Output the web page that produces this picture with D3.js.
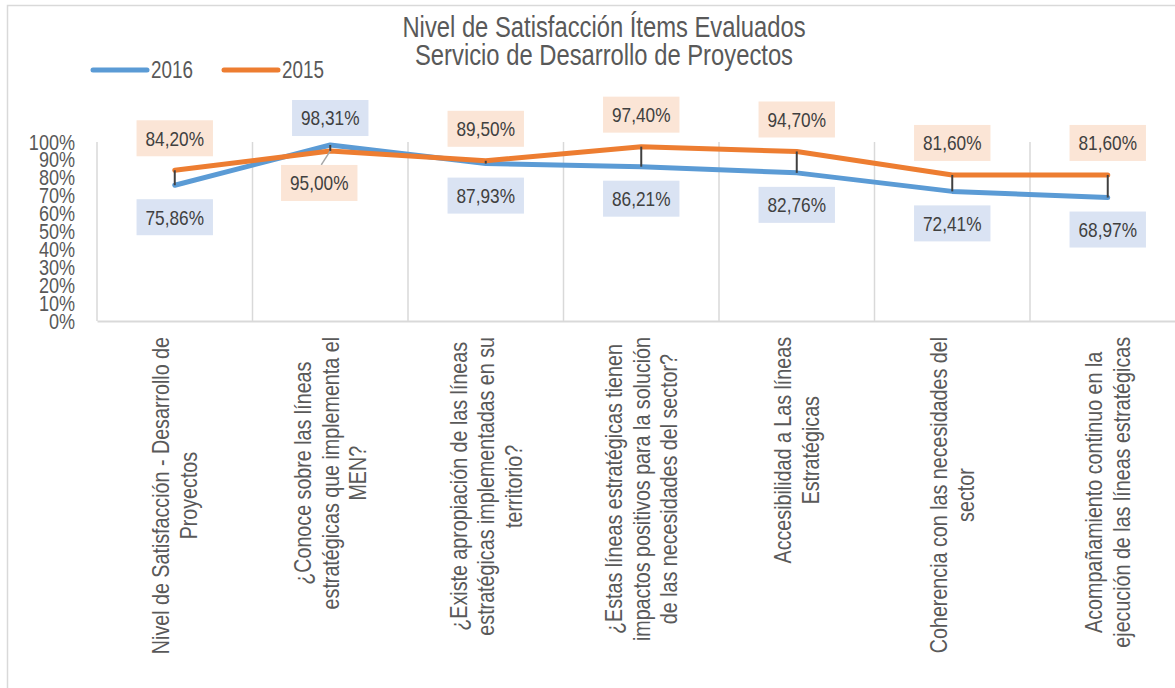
<!DOCTYPE html>
<html>
<head>
<meta charset="utf-8">
<script src="https://cdn.jsdelivr.net/npm/d3@7"></script>
<style>
  html, body { margin: 0; padding: 0; background: #fff; }
  svg { display: block; font-family: 'Liberation Sans', Arial, sans-serif; }
</style>
</head>
<body>
<div id="chart"></div>
<script>
// category tick labels, already split into lines as in the original
const categories = [
  ["Nivel de Satisfacción - Desarrollo de", "Proyectos"],
  ["¿Conoce sobre las líneas", "estratégicas que implementa el", "MEN?"],
  ["¿Existe apropiación de las líneas", "estratégicas implementadas en su", "territorio?"],
  ["¿Estas líneas estratégicas tienen", "impactos positivos para la solución", "de las necesidades del sector?"],
  ["Accesibilidad a Las líneas", "Estratégicas"],
  ["Coherencia con las necesidades del", "sector"],
  ["Acompañamiento continuo en la", "ejecución de las líneas estratégicas"]
];
const values2016 = [75.86, 98.31, 87.93, 86.21, 82.76, 72.41, 68.97];
const values2015 = [84.20, 95.00, 89.50, 97.40, 94.70, 81.60, 81.60];
const yTicks = [0, 10, 20, 30, 40, 50, 60, 70, 80, 90, 100];
const titleLines = ["Nivel de Satisfacción Ítems Evaluados", "Servicio de Desarrollo de Proyectos"];

const series = [
  { name: "2016", values: values2016, color: "#5b9bd5", box: "#dae3f3" },
  { name: "2015", values: values2015, color: "#ed7d31", box: "#fbe5d6" }
];

const W = 1175, H = 688;
const plot = { left: 97, top: 142, bottom: 321, step: 155.5 };
const fmt = v => v.toFixed(2).replace('.', ',') + '%';

// no Arial Narrow here: squeeze Liberation Sans horizontally instead
const NARROW = 0.82;
const narrow = sel => sel.each(function () {
  const w = this.getComputedTextLength();
  d3.select(this)
    .attr('textLength', w * NARROW)
    .attr('lengthAdjust', 'spacingAndGlyphs');
});

const svg = d3.select('#chart').append('svg')
  .attr('width', W)
  .attr('height', H);

svg.append('rect')
  .attr('x', 7.5).attr('y', 5.5)
  .attr('width', W + 20).attr('height', H + 20)
  .attr('fill', '#fff')
  .attr('stroke', '#d9d9d9')
  .attr('stroke-width', 1.5);

const idx = categories.map((d, i) => i);
const x = d3.scaleBand()
  .domain(idx)
  .range([plot.left, plot.left + plot.step * categories.length])
  .padding(0);
const y = d3.scaleLinear()
  .domain([0, 100])
  .range([plot.bottom, plot.top]);
const cx = i => x(i) + x.bandwidth() / 2;

// vertical gridlines at category boundaries
svg.append('g')
  .selectAll('line')
  .data(d3.range(categories.length + 1))
  .enter()
  .append('line')
  .attr('x1', i => plot.left + i * x.step())
  .attr('x2', i => plot.left + i * x.step())
  .attr('y1', y(100))
  .attr('y2', y(0))
  .attr('stroke', '#d9d9d9')
  .attr('stroke-width', 1.5);

// y axis
const yAxis = svg.append('g')
  .attr('transform', `translate(${plot.left}, 0)`)
  .call(d3.axisLeft(y).tickValues(yTicks).tickFormat(d => d + '%').tickSize(0).tickPadding(22));
yAxis.select('.domain').remove();
yAxis.selectAll('text')
  .attr('fill', '#595959')
  .style('font-family', "'Liberation Sans', Arial, sans-serif")
  .style('font-size', '22px')
  .call(narrow);

// x axis
const xAxis = svg.append('g')
  .attr('transform', `translate(0, ${plot.bottom})`)
  .call(d3.axisBottom(x).tickSize(0).tickFormat(''));
xAxis.select('.domain')
  .attr('stroke', '#d9d9d9')
  .attr('stroke-width', 2);
xAxis.selectAll('.tick text').remove();

// rotated multi-line category labels
const catFont = 24, catLine = 27.5, catTop = 337;
const catG = svg.append('g');
categories.forEach((lines, i) => {
  const g = catG.append('g');
  const texts = g.selectAll('text')
    .data(lines)
    .enter()
    .append('text')
    .attr('text-anchor', 'middle')
    .attr('fill', '#595959')
    .style('font-size', catFont + 'px')
    .text(d => d);
  const longest = d3.max(texts.nodes(), n => n.getComputedTextLength()) * NARROW;
  texts.call(narrow)
    .attr('x', 0)
    .attr('y', (d, j) => (j - (lines.length - 1) / 2) * catLine + catFont * 0.35);
  g.attr('transform', `translate(${cx(i)}, ${catTop + longest / 2}) rotate(-90)`);
});

// series lines
const line = d3.line()
  .x((d, i) => cx(i))
  .y(d => y(d));
series.forEach(s => {
  svg.append('path')
    .datum(s.values)
    .attr('d', line)
    .attr('fill', 'none')
    .attr('stroke', s.color)
    .attr('stroke-width', 5)
    .attr('stroke-linejoin', 'round')
    .attr('stroke-linecap', 'round');
});

// high-low lines
svg.append('g')
  .selectAll('line')
  .data(idx)
  .enter()
  .append('line')
  .attr('x1', i => cx(i))
  .attr('x2', i => cx(i))
  .attr('y1', i => y(values2016[i]))
  .attr('y2', i => y(values2015[i]))
  .attr('stroke', '#404040')
  .attr('stroke-width', 2);

// data labels: the higher value goes above, the lower below
const labelOffset = 32;
const nudge = { '2015-1': [-11, 0], '2016-1': [0, 5] };
const labelG = svg.append('g');
series.forEach((s, k) => {
  const other = series[1 - k];
  s.values.forEach((v, i) => {
    const above = v >= other.values[i];
    const n = nudge[s.name + '-' + i] || [0, 0];
    const px = cx(i), py = y(v);
    const lx = px + n[0];
    const ly = py + (above ? -labelOffset : labelOffset) + n[1];
    const g = labelG.append('g');
    const rect = g.append('rect').attr('fill', s.box);
    const t = g.append('text')
      .attr('x', lx)
      .attr('y', ly)
      .attr('dy', '0.35em')
      .attr('text-anchor', 'middle')
      .attr('fill', '#404040')
      .style('font-size', '21px')
      .text(fmt(v));
    const tw = t.node().getComputedTextLength() * NARROW;
    t.call(narrow);
    const bw = tw + 18, bh = 36;
    rect.attr('x', lx - bw / 2).attr('y', ly - bh / 2).attr('width', bw).attr('height', bh);
    if (n[0] !== 0) {
      g.insert('line', 'rect')
        .attr('x1', px).attr('y1', py)
        .attr('x2', lx + 2).attr('y2', ly - bh / 2)
        .attr('stroke', '#a6a6a6')
        .attr('stroke-width', 1.5);
    }
  });
});

// title
svg.append('g')
  .selectAll('text')
  .data(titleLines)
  .enter()
  .append('text')
  .attr('x', 604)
  .attr('y', (d, i) => 37 + i * 28)
  .attr('text-anchor', 'middle')
  .attr('fill', '#595959')
  .style('font-size', '29px')
  .text(d => d)
  .call(narrow);

// legend
const legend = svg.append('g').attr('transform', 'translate(93, 70)');
const legendItems = legend.selectAll('g')
  .data(series)
  .enter()
  .append('g')
  .attr('transform', (d, i) => `translate(${i * 131}, 0)`);
legendItems.append('line')
  .attr('x1', 0).attr('x2', 54)
  .attr('y1', 0).attr('y2', 0)
  .attr('stroke', d => d.color)
  .attr('stroke-width', 5)
  .attr('stroke-linecap', 'round');
legendItems.append('text')
  .attr('x', 58)
  .attr('dy', '0.35em')
  .attr('fill', '#595959')
  .style('font-size', '23px')
  .text(d => d.name)
  .call(narrow);
</script>
</body>
</html>
